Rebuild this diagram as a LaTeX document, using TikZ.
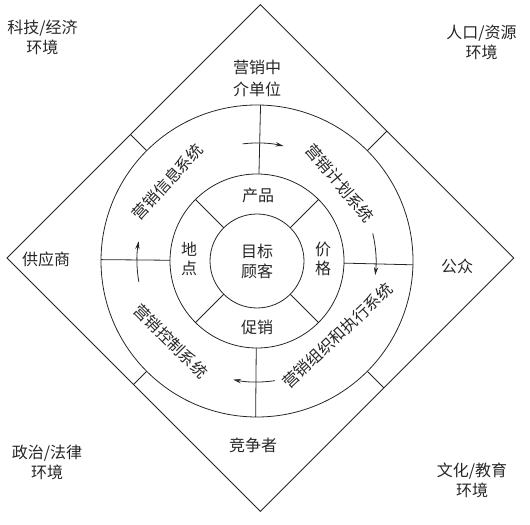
\documentclass[tikz,border=0pt]{standalone}
\usepackage{fontspec}
\newfontfamily\cjk{Noto Sans CJK SC}
\usetikzlibrary{arrows.meta,calc}
\begin{document}
\begin{tikzpicture}[x=0.75pt,y=0.75pt,
  ln/.style={line width=0.6pt,draw=black!85},
  lbl/.style={font=\cjk\fontsize{12}{15}\selectfont, inner sep=0pt, align=center, text=black!85},
  vlbl/.style={font=\cjk\fontsize{12}{13.8}\selectfont, inner sep=0pt, align=center, text=black!85},
  cyc/.style={line width=0.6pt, draw=black!85, -{Stealth[length=6pt,width=3.2pt]}}]
\useasboundingbox (0,0) rectangle (530,524);
\coordinate (C) at (257,263);
\coordinate (T) at (260.4,519.4);
\coordinate (R) at (513.8,266);
\coordinate (B) at (260.4,12.6);
\coordinate (L) at (7,266);
% diamond
\draw[ln] (T) -- (R) -- (B) -- (L) -- cycle;
% circles
\draw[ln] (C) circle[radius=156];
\draw[ln] (C) circle[radius=87];
\draw[ln] (C) circle[radius=47];
% radial lines in the outer ring
\foreach \a in {88.7,-1.4,269.5,179.5}
  \draw[ln] ($(C)+(\a:87)$) -- ($(C)+(\a:156)$);
% lines from outer circle to diamond
\foreach \a/\d in {45/183.7,135/178.9,225/174.7,315/179.5}
  \draw[ln] ($(C)+(\a:156)$) -- ($(C)+(\a:\d)$);
% lines in the middle ring
\foreach \a in {45,135,225,315}
  \draw[ln] ($(C)+(\a:47)$) -- ($(C)+(\a:87)$);
% circulation arrows
\draw[cyc] ($(C)+(97:118)$) arc[start angle=97,end angle=77,radius=118];
\draw[cyc] ($(C)+(13.4:119)$) arc[start angle=13.4,end angle=-6.8,radius=119];
\draw[cyc] ($(C)+(-81.5:121)$) arc[start angle=-81.5,end angle=-101.4,radius=121];
\draw[cyc] ($(C)+(190:120)$) arc[start angle=190,end angle=170.5,radius=120];
% environment labels
\node[lbl] (env1) at (42.5,487) {科技/经济\\环境};
\node[lbl] (env2) at (481.5,482) {人口/资源\\环境};
\node[lbl] (env3) at (47,62) {政治/法律\\环境};
\node[lbl] (env4) at (472,44) {文化/教育\\环境};
% actors
\node[lbl] (mid) at (257,446) {营销中\\[1.5pt]介单位};
\node[lbl] (sup) at (46,265) {供应商};
\node[lbl] (pub) at (457,258) {公众};
\node[lbl] (com) at (253,79) {竞争者};
% 4P
\node[lbl] (prod) at (258,329) {产品};
\node[vlbl] (price) at (323,265) {价\\格};
\node[vlbl] (place) at (189,265) {地\\点};
\node[lbl] (promo) at (257,197) {促销};
\node[lbl] (cust) at (257,263) {目标\\顾客};
% systems
\node[lbl, rotate=47.5] (s1) at (167.5,342.3) {营销信息系统};
\node[lbl, rotate=-49.9] (s2) at (340,340.7) {营销计划系统};
\node[lbl, rotate=43.2] (s3) at (337.5,188.5) {营销组织和执行系统};
\node[lbl, rotate=-45] (s4) at (170.8,182.8) {营销控制系统};
\end{tikzpicture}
\end{document}
